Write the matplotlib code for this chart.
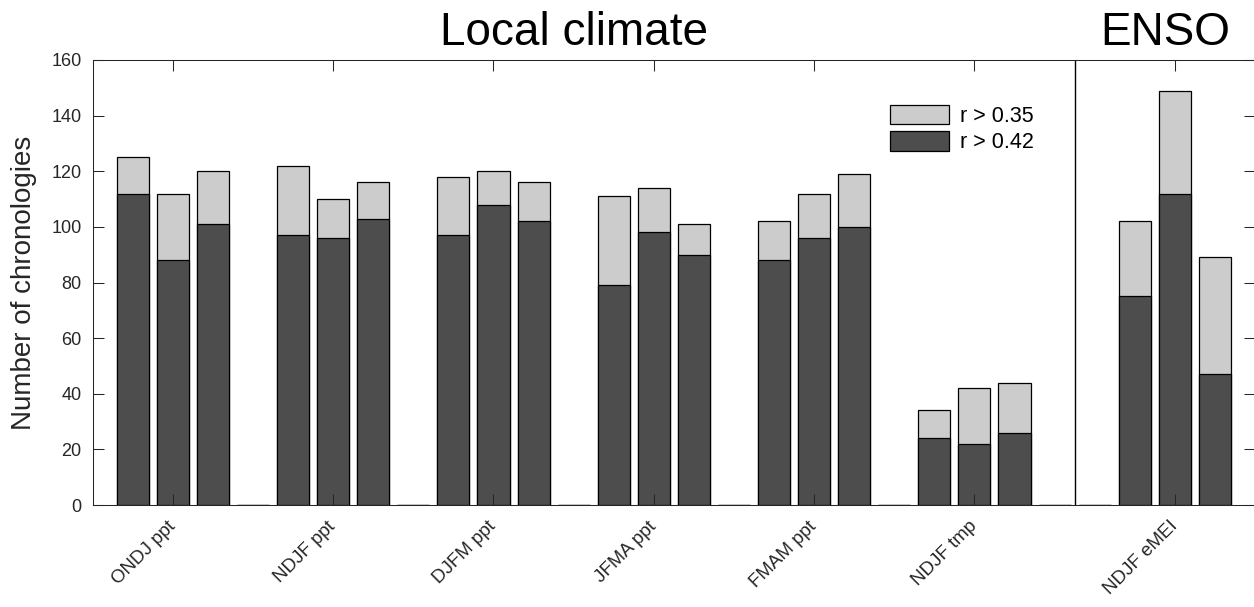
import numpy as np
import matplotlib
matplotlib.use("Agg")
import matplotlib.pyplot as plt
import matplotlib.transforms as mtransforms

# bar values per slot (zeros are the empty separator slots)
r035 = [125, 112, 120, 0, 122, 110, 116, 0, 118, 120, 116, 0, 111, 114, 101, 0,
        102, 112, 119, 0, 34, 42, 44, 0, 0, 102, 149, 89]
r042 = [112, 88, 101, 0, 97, 96, 103, 0, 97, 108, 102, 0, 79, 98, 90, 0,
        88, 96, 100, 0, 24, 22, 26, 0, 0, 75, 112, 47]
tick_pos = [2, 6, 10, 14, 18, 22, 27]
tick_labels = ["ONDJ ppt", "NDJF ppt", "DJFM ppt", "JFMA ppt", "FMAM ppt",
               "NDJF tmp", "NDJF eMEI"]
divider = 24.5

plt.rcParams["font.family"] = ["Liberation Sans", "DejaVu Sans"]
axcol = "#262626"

fig = plt.figure(figsize=(12.54, 6.07), dpi=100)
ax = fig.add_axes([92.7 / 1254, 102 / 607, 1162.3 / 1254, 445 / 607])

x = np.arange(1, len(r035) + 1)
ax.bar(x, r035, width=0.8, color="#cccccc", edgecolor="black", linewidth=0.9,
       label="r > 0.35", zorder=1)
ax.bar(x, r042, width=0.8, color="#4d4d4d", edgecolor="black", linewidth=0.9,
       label="r > 0.42", zorder=1.1)
ax.plot([divider, divider], [0, 160], color="black", linewidth=1.0, zorder=2)

ax.set_xlim(0, 29)
ax.set_ylim(0, 160)
ax.set_yticks(np.arange(0, 161, 20))
ax.set_xticks(tick_pos)
ax.set_xticklabels(tick_labels, rotation=45, ha="right", va="center",
                   rotation_mode="anchor", fontsize=13.5, color=axcol)
offset = mtransforms.ScaledTranslation(6 / 100, 0, fig.dpi_scale_trans)
for lab in ax.get_xticklabels():
    lab.set_transform(lab.get_transform() + offset)

ax.tick_params(axis="both", direction="in", length=8, width=0.75, color=axcol,
               top=True, right=True, labelsize=13, labelcolor=axcol)
ax.tick_params(axis="x", pad=13.5, labelsize=13.5)
ax.tick_params(axis="y", pad=8)
for s in ax.spines.values():
    s.set_color(axcol)
    s.set_linewidth(0.75)

ax.set_ylabel("Number of chronologies", fontsize=20, color=axcol)
ax.yaxis.set_label_coords(-0.048, 0.5)

ax.text(12, 1.034, "Local climate", transform=ax.get_xaxis_transform(),
        ha="center", va="baseline", fontsize=33, color="black")
ax.text(26.75, 1.034, "ENSO", transform=ax.get_xaxis_transform(),
        ha="center", va="baseline", fontsize=33, color="black")

ax.legend(loc="upper left", bbox_to_anchor=(0.686, 0.9), frameon=False,
          fontsize=15.5, handlelength=2.74, handleheight=1.0,
          labelspacing=0.23, handletextpad=0.5, borderpad=0, borderaxespad=0)

fig.savefig("out.png", dpi=100)
